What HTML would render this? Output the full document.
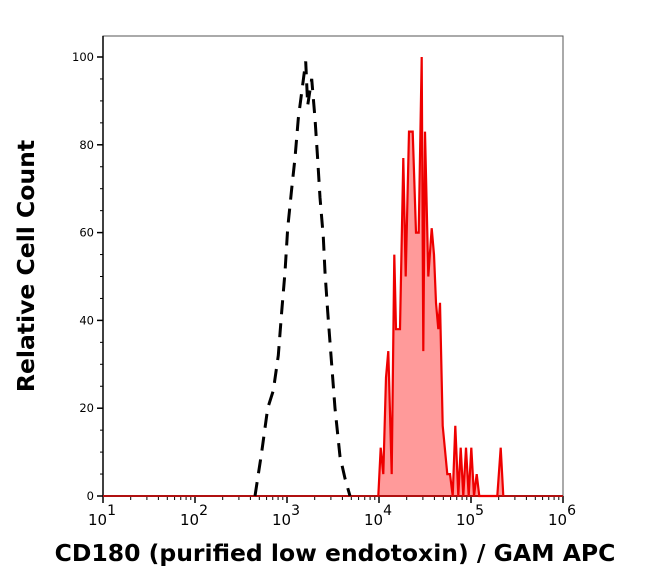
<!DOCTYPE html>
<html><head><meta charset="utf-8"><style>
html,body{margin:0;padding:0;background:#fff;}
svg{display:block;font-family:"DejaVu Sans","Liberation Sans",sans-serif;}
</style></head><body>
<svg id="chart" width="650" height="578" viewBox="0 0 650 578">
<g id="axes"></g>
<g id="series"></g>
<text transform="translate(34,266) rotate(-90)" text-anchor="middle" font-size="23.5" font-weight="bold" fill="#000">Relative Cell Count</text>
<text x="335" y="561" text-anchor="middle" font-size="23.5" font-weight="bold" fill="#000">CD180 (purified low endotoxin) / GAM APC</text>
</svg>
<script>
const xTickExps = [1,2,3,4,5,6];
const yTicks = [0,20,40,60,80,100];
const ctrlLog = [2.652,2.725,2.790,2.851,2.905,2.942,2.978,3.008,3.051,3.087,3.123,3.166,3.203,3.225,3.268,3.304,3.333,3.359,3.395,3.413,3.442,3.478,3.522,3.576,3.630,3.685];
const ctrlVal = [0,10,20,24,32,42,51,61,70,77,86,93,99,89,95,86,77,68,59,51,42,32,20,9,4,0];
const stainLog = [3.992,4.018,4.047,4.076,4.101,4.138,4.166,4.185,4.228,4.264,4.290,4.326,4.366,4.402,4.432,4.464,4.482,4.500,4.536,4.573,4.598,4.620,4.645,4.663,4.692,4.742,4.772,4.801,4.829,4.862,4.888,4.916,4.946,4.975,5.003,5.033,5.062,5.090,5.286,5.323,5.351];
const stainVal = [0,11,5,27,33,5,55,38,38,77,50,83,83,60,60,100,33,83,50,61,55,44,38,44,16,5,5,0,16,0,11,0,11,0,11,0,5,0,0,11,0];

const NS='http://www.w3.org/2000/svg';
const L=103,R=563,T=36,B=496;
const xs = e => L + (e-1)*(R-L)/5;
const ys = v => B - v*(B-57)/100;
function mk(tag,attrs,parent){const el=document.createElementNS(NS,tag);for(const k in attrs)el.setAttribute(k,attrs[k]);parent.appendChild(el);return el;}
const axes=document.getElementById('axes'), series=document.getElementById('series');

let fr=mk('rect',{x:L,y:T,width:R-L,height:B-T,fill:'none',stroke:'#555','stroke-width':1},axes);


let la=mk('line',{x1:L,x2:L,y1:T,y2:B,stroke:'#000','stroke-width':1.5},axes);



yTicks.forEach(v=>{
  const y=ys(v);
  let t=mk('line',{x1:L-6,x2:L,y1:y,y2:y,stroke:'#000','stroke-width':1.5},axes);
  
  
  let lb=mk('text',{x:L-9,y:y+4,'text-anchor':'end','font-size':11.5,fill:'#000'},axes);
  lb.textContent=v;
  
  
});
for(let v=5;v<100;v+=5){ if(v%20===0)continue; const y=ys(v);
  let t=mk('line',{x1:L-3,x2:L,y1:y,y2:y,stroke:'#000','stroke-width':1},axes);
  
  
}
xTickExps.forEach(e=>{
  const x=xs(e);
  let t=mk('line',{x1:x,x2:x,y1:B,y2:B+7,stroke:'#000','stroke-width':1.5},axes);
  
  
  let lb=mk('text',{x:x-15,y:B+29,'font-size':15,fill:'#000'},axes);
  
  
  lb.textContent='10';
  let sp=mk('tspan',{dy:-10,'font-size':14},lb); sp.textContent=e;
  if(e<6) for(let m=2;m<=9;m++){ const xm=xs(e+Math.log10(m));
    let mt=mk('line',{x1:xm,x2:xm,y1:B,y2:B+4,stroke:'#000','stroke-width':1},axes);
    
    
  }
});

let pts=stainLog.map((e,i)=>xs(e).toFixed(1)+','+ys(stainVal[i]).toFixed(1));
let area=mk('polygon',{points:pts.join(' '),fill:'#ff9a9a',stroke:'none'},series);


let base=mk('line',{x1:L,x2:R,y1:B,y2:B,stroke:'#b01010','stroke-width':2},series);


let sl=mk('polyline',{points:pts.join(' '),fill:'none',stroke:'#ee0000','stroke-width':2.2,'stroke-linejoin':'miter'},series);


let cp=ctrlLog.map((e,i)=>xs(e).toFixed(1)+','+ys(ctrlVal[i]).toFixed(1));
let cl=mk('polyline',{points:cp.join(' '),fill:'none',stroke:'#000','stroke-width':3,'stroke-dasharray':'14,9'},series);


</script>
</body></html>
